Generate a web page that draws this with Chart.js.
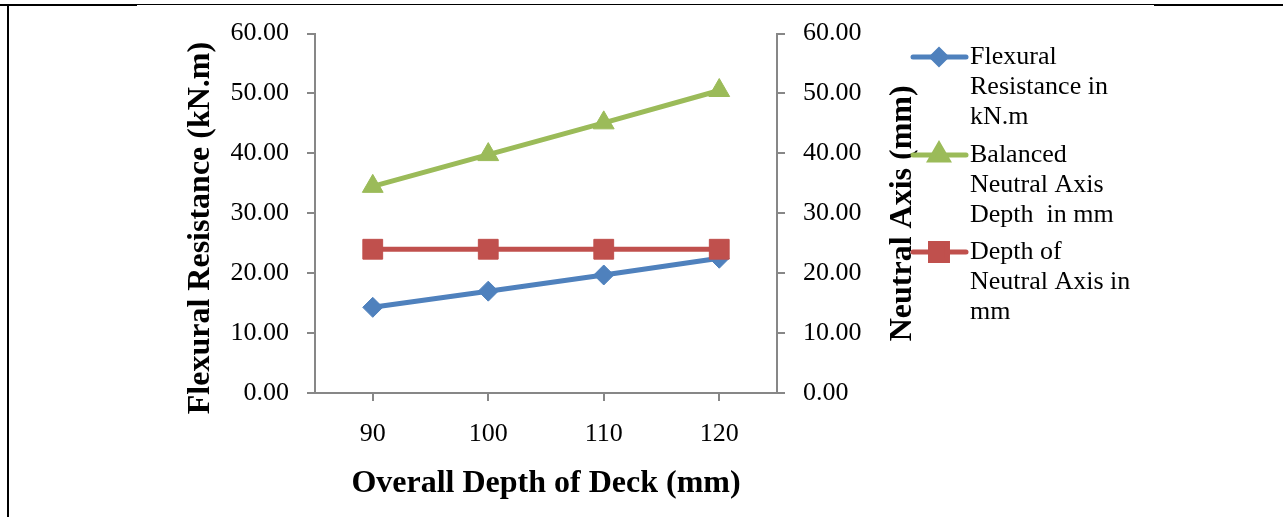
<!DOCTYPE html>
<html>
<head>
<meta charset="utf-8">
<script src="https://cdn.jsdelivr.net/npm/chart.js@4.4.0/dist/chart.umd.min.js"></script>
<style>
  body { margin: 0; background: #fff; }
  #wrap { position: relative; width: 1283px; height: 517px; }
  .frame { position: absolute; background: #000; }
</style>
</head>
<body>
<div id="wrap">
  <canvas id="chart" width="1283" height="517"></canvas>
  <div class="frame" style="left:7px; top:4px; width:1276px; height:1px;"></div>
  <div class="frame" style="left:0; top:4px; width:137px; height:2px;"></div>
  <div class="frame" style="left:1154px; top:4px; width:129px; height:2px;"></div>
  <div class="frame" style="left:7px; top:4px; width:2px; height:513px;"></div>
</div>
<script>
const depths = ['90', '100', '110', '120']
const flexural = [14.3, 17.0, 19.7, 22.5]
const balancedNA = [34.5, 39.8, 45.1, 50.5]
const depthNA = [24.0, 24.0, 24.0, 24.0]

const legendLines = [
    ['Flexural', 'Resistance in', 'kN.m'],
    ['Balanced', 'Neutral Axis', 'Depth  in mm'],
    ['Depth of', 'Neutral Axis in', 'mm']
]

const serif = "'Liberation Serif', 'Times New Roman', serif"
const axisGray = '#878787'

function getStyle(name) {
    if (name === 'flex') {
        return { color: '#4F81BD', pointStyle: 'rectRot', radius: 10, legendRadius: 7 }
    }
    if (name === 'bal') {
        return { color: '#9BBB59', pointStyle: 'triangle', radius: 12, legendRadius: 10 }
    }
    if (name === 'dna') {
        return { color: '#C0504D', pointStyle: 'rect', radius: 14, legendRadius: 12 }
    }
}

function makeSet(name, data, axis, order) {
    const s = getStyle(name)
    return {
        data: data,
        yAxisID: axis,
        order: order,
        borderColor: s.color,
        backgroundColor: s.color,
        borderWidth: 5,
        pointStyle: s.pointStyle,
        pointRadius: s.radius,
        pointHoverRadius: s.radius,
        pointBorderWidth: 1,
        pointBackgroundColor: s.color,
        pointBorderColor: s.color,
        tension: 0
    }
}

function sideTitle(ctx, text, x, y) {
    ctx.save()
    ctx.fillStyle = '#000'
    ctx.font = "bold 32px " + serif
    ctx.textAlign = 'center'
    ctx.textBaseline = 'middle'
    ctx.translate(x, y)
    ctx.rotate(-Math.PI / 2)
    ctx.fillText(text, 0, 0)
    ctx.restore()
}

// both y titles (read bottom to top) and the wrapped legend
const extras = {
    id: 'extras',
    afterDraw(chart) {
        const ctx = chart.ctx
        const y1 = chart.scales.y1
        sideTitle(ctx, 'Flexural Resistance (kN.m)', 201, 228)
        sideTitle(ctx, 'Neutral Axis (mm)', 903, (y1.top + y1.bottom) / 2)

        const names = ['flex', 'bal', 'dna']
        const tops = [57, 155, 252]
        ctx.save()
        ctx.font = "26px " + serif
        ctx.textBaseline = 'middle'
        ctx.textAlign = 'left'
        names.forEach((n, i) => {
            const s = getStyle(n)
            const y = tops[i]
            ctx.strokeStyle = s.color
            ctx.lineWidth = 5
            ctx.lineCap = 'round'
            ctx.beginPath()
            ctx.moveTo(913, y)
            ctx.lineTo(966, y)
            ctx.stroke()
            ctx.fillStyle = s.color
            Chart.helpers.drawPoint(ctx, { pointStyle: s.pointStyle, radius: s.legendRadius, borderWidth: 1, rotation: 0 }, 939, y)
            ctx.fillStyle = '#000'
            legendLines[i].forEach((t, j) => ctx.fillText(t, 970, y + j * 30))
        })
        ctx.restore()
    }
}

const yTicks = {
    color: '#000',
    font: { family: serif, size: 26 },
    padding: 18,
    stepSize: 10,
    callback: v => v.toFixed(2)
}

new Chart(document.getElementById('chart').getContext('2d'), {
    type: 'line',
    data: {
        labels: depths,
        datasets: [
            makeSet('flex', flexural, 'y', 2),
            makeSet('bal', balancedNA, 'y1', 1),
            makeSet('dna', depthNA, 'y1', 0)
        ]
    },
    options: {
        responsive: false,
        animation: false,
        layout: { padding: { left: 183, right: 356, top: 33, bottom: 0 } },
        plugins: { legend: { display: false }, tooltip: { enabled: false } },
        scales: {
            x: {
                offset: true,
                grid: { drawOnChartArea: false, color: axisGray, lineWidth: 2, tickLength: 8 },
                border: { color: axisGray, width: 2 },
                ticks: { color: '#000', font: { family: serif, size: 26 }, padding: 18 },
                title: {
                    display: true,
                    text: 'Overall Depth of Deck (mm)',
                    color: '#000',
                    font: { family: serif, size: 32, weight: 'bold' },
                    padding: { top: 0, bottom: 14 }
                },
                afterFit: s => { s.height = 124 }
            },
            y: {
                position: 'left',
                min: 0,
                max: 60,
                grid: { drawOnChartArea: false, color: axisGray, lineWidth: 2, tickLength: 8 },
                border: { color: axisGray, width: 2 },
                ticks: yTicks,
                afterFit: s => { s.width = 132 }
            },
            y1: {
                position: 'right',
                min: 0,
                max: 60,
                grid: { drawOnChartArea: false, color: axisGray, lineWidth: 2, tickLength: 8 },
                border: { color: axisGray, width: 2 },
                ticks: yTicks,
                afterFit: s => { s.width = 150 }
            }
        }
    },
    plugins: [extras]
})
</script>
</body>
</html>
